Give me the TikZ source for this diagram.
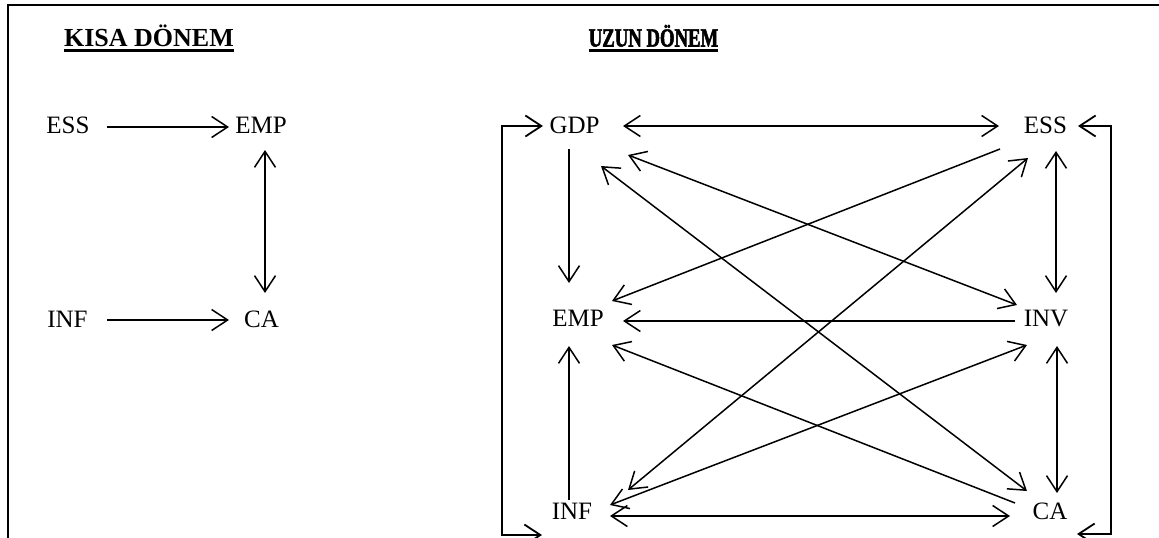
\documentclass[tikz,border=0pt]{standalone}
\usepackage{fontspec}
\setmainfont{Liberation Serif}
\newfontfamily\uzunfont[FakeStretch=0.72,FakeBold=2]{Liberation Serif Bold}
\usetikzlibrary{arrows.meta,calc}
\tikzset{
  lbl/.style={anchor=base,inner sep=0pt,font=\fontsize{25}{29}\selectfont},
  ttl/.style={anchor=base,inner sep=0pt,font=\fontsize{26}{30}\selectfont\bfseries},
  ttlc/.style={anchor=base,inner sep=0pt,font=\fontsize{26}{30}\uzunfont},
  conn/.style={line width=1.5pt,line join=miter},
  oneway/.style={conn,-{Straight Barb[length=16pt,width=21pt,line width=1.5pt]}},
  twoway/.style={conn,{Straight Barb[length=16pt,width=21pt,line width=1.5pt]}-{Straight Barb[length=16pt,width=21pt,line width=1.5pt]}},
  loopway/.style={line width=2pt,{Straight Barb[length=16pt,width=21pt,line width=1.8pt]}-{Straight Barb[length=16pt,width=21pt,line width=1.8pt]}},
  uline/.style={line width=3pt}
}
\begin{document}
\begin{tikzpicture}[x=1pt,y=-1pt]
\useasboundingbox (0,0) rectangle (1159,538);
% frame
\draw[line width=2pt] (7.7,540) -- (7.7,5) -- (1161,5);
% titles
\node[ttl] (t1) at (149,46.5) {KISA DÖNEM};
\node[ttlc] (t2) at (653.5,46.5) {UZUN DÖNEM};
\draw[uline] ($(t1.base west)+(0,4.3)$) -- ($(t1.base east)+(0,4.3)$);
\draw[uline] ($(t2.base west)+(0,4.3)$) -- ($(t2.base east)+(0,4.3)$);
% short run
\node[lbl] (lESS) at (68,133) {ESS};
\node[lbl] (lEMP) at (261,133) {EMP};
\node[lbl] (lINF) at (67.5,327) {INF};
\node[lbl] (lCA) at (261.5,327) {CA};
\draw[oneway] ($(lESS.base)+(39,-6)$) -- ($(lEMP.base)+(-32,-6)$);
\draw[twoway] ($(lEMP.base)+(4,17)$) -- ($(lCA.base)+(3.5,-34)$);
\draw[oneway] ($(lINF.base)+(39.5,-7)$) -- ($(lCA.base)+(-32.5,-7)$);
% long run
\node[lbl] (GDP) at (574.5,133) {GDP};
\node[lbl] (ESS) at (1045.5,133) {ESS};
\node[lbl] (EMP) at (578,326) {EMP};
\node[lbl] (INV) at (1046,326) {INV};
\node[lbl] (INF) at (572,519) {INF};
\node[lbl] (CA) at (1050,519) {CA};
\draw[twoway] ($(GDP.base)+(48.5,-7)$) -- ($(ESS.base)+(-46.5,-7)$);
\draw[oneway] ($(GDP.base)+(-5.5,16)$) -- ($(EMP.base)+(-9,-43)$);
\draw[twoway] ($(ESS.base)+(10.5,18)$) -- ($(INV.base)+(10,-33)$);
\draw[oneway] ($(INV.base)+(-31,-5)$) -- ($(EMP.base)+(45,-5)$);
\draw[twoway] ($(INV.base)+(11,20)$) -- ($(CA.base)+(7,-26)$);
\draw[oneway] ($(INF.base)+(-3,-19)$) -- ($(EMP.base)+(-9,20)$);
\draw[twoway] ($(INF.base)+(38,-3)$) -- ($(CA.base)+(-40,-3)$);
\draw[oneway] ($(ESS.base)+(-45.5,16)$) -- ($(EMP.base)+(34,-25)$);
\draw[twoway] ($(GDP.base)+(53.5,22)$) -- ($(INV.base)+(-29,-21)$);
\draw[twoway] ($(GDP.base)+(26.5,33)$) -- ($(CA.base)+(-23,-28)$);
\draw[twoway] ($(INF.base)+(56,-29)$) -- ($(ESS.base)+(-17.5,25)$);
\draw[oneway] ($(CA.base)+(-35,-16)$) -- ($(EMP.base)+(34,19)$);
\draw[twoway] ($(INF.base)+(38,-14)$) -- ($(INV.base)+(-19,19)$);
% feedback loops
\draw[loopway] ($(GDP.base)+(-31.5,-7)$) -- ++(-41,0) |- ($(INF.base)+(-30,16)$);
\draw[loopway] ($(ESS.base)+(32.5,-7)$) -- ++(33,0) |- ($(CA.base)+(27,15)$);
\end{tikzpicture}
\end{document}
